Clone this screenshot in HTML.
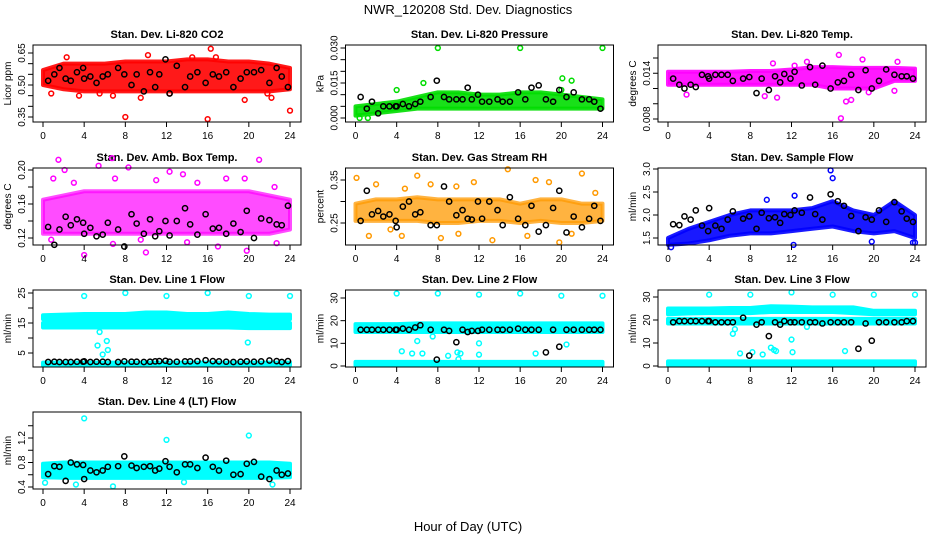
<!DOCTYPE html>
<html><head><meta charset="utf-8"><style>
html,body{margin:0;padding:0;background:#fff;}
svg{display:block;font-family:"Liberation Sans",Arial,sans-serif;}
</style></head><body>
<svg id="chart" width="936" height="540" viewBox="0 0 936 540" xmlns="http://www.w3.org/2000/svg">
<rect width="936" height="540" fill="#fff"/>
<text x="468" y="14" text-anchor="middle" font-size="13">NWR_120208 Std. Dev. Diagnostics</text>
<text x="468" y="531" text-anchor="middle" font-size="13">Hour of Day (UTC)</text>
</svg>
<script>
const bandHours=[0,2,4,6,8,10,12,14,16,18,20,22,24];
const blackHours=[0.5,1.1,1.6,2.2,2.7,3.3,3.9,4.0,4.6,5.2,5.8,6.3,7.3,7.9,8.6,9.1,9.8,10.4,10.9,11.3,11.9,12.3,13.0,13.8,14.3,15.0,15.8,16.5,17.1,17.8,18.5,19.2,19.8,20.5,21.2,22.0,22.7,23.2,23.8];
const xTicks=[0,4,8,12,16,20,24];

const titles=["Stan. Dev. Li-820 CO2","Stan. Dev. Li-820 Pressure","Stan. Dev. Li-820 Temp.","Stan. Dev. Amb. Box Temp.","Stan. Dev. Gas Stream RH","Stan. Dev. Sample Flow","Stan. Dev. Line 1 Flow","Stan. Dev. Line 2 Flow","Stan. Dev. Line 3 Flow","Stan. Dev. Line 4 (LT) Flow"];
const yTitles=["Licor ppm","kPa","degrees C","degrees C","percent","ml/min","ml/min","ml/min","ml/min","ml/min"];
const colors=["#ff0000","#00dd00","#ff00ff","#ff00ff","#ff9900","#0000ff","#00ffff","#00ffff","#00ffff","#00ffff"];
const bandOpacity=[0.9,0.9,0.9,0.7,0.75,0.9,1,1,1,1];

const yTicks=[[0.35,0.40,0.45,0.50,0.55,0.60,0.65],[0,0.005,0.010,0.015,0.020,0.025,0.030],[0.008,0.010,0.012,0.014,0.016],[0.12,0.14,0.16,0.18,0.20],[0.25,0.30,0.35],[1.5,2.0,2.5,3.0],[5,10,15,20,25],[0,10,20,30],[0,10,20,30],[0.4,0.6,0.8,1.0,1.2,1.4]];
const yLabels=[["0.35","0.50","0.65"],["0.000","0.015","0.030"],["0.008","0.014"],["0.12","0.16","0.20"],["0.25","0.35"],["1.5","2.0","2.5","3.0"],["5","15","25"],["0","10","20","30"],["0","10","20","30"],["0.4","0.8","1.2"]];

const bandsCO2=[[[0.50,0.48,0.47,0.47,0.47,0.47,0.47,0.47,0.47,0.47,0.47,0.47,0.48],[0.57,0.60,0.60,0.60,0.61,0.61,0.61,0.62,0.62,0.61,0.61,0.60,0.58]]];
const bandsPres=[[[0.001,0.002,0.003,0.004,0.004,0.004,0.004,0.004,0.004,0.004,0.004,0.004,0.004],[0.005,0.006,0.007,0.009,0.011,0.011,0.010,0.010,0.011,0.011,0.010,0.009,0.008]]];
const bandsTemp=[[[0.0125,0.0125,0.0125,0.0125,0.0125,0.0125,0.0125,0.0125,0.012,0.012,0.012,0.013,0.013],[0.0142,0.0142,0.0142,0.0142,0.0143,0.0143,0.0145,0.0148,0.0148,0.0147,0.0147,0.0147,0.0146]]];
const bandsAmb=[[[0.125,0.125,0.125,0.125,0.125,0.125,0.125,0.125,0.125,0.125,0.125,0.125,0.13],[0.165,0.17,0.175,0.175,0.175,0.175,0.175,0.175,0.175,0.175,0.175,0.17,0.165]]];
const bandsRH=[[[0.255,0.255,0.255,0.255,0.25,0.25,0.255,0.255,0.25,0.255,0.25,0.25,0.255],[0.295,0.305,0.305,0.31,0.305,0.305,0.305,0.305,0.295,0.305,0.305,0.295,0.295]]];
const bandsSample=[[[1.35,1.38,1.45,1.55,1.6,1.6,1.65,1.7,1.75,1.65,1.6,1.65,1.5],[1.5,1.7,1.85,2.0,2.1,2.1,2.1,2.15,2.3,2.1,2.0,2.3,2.0]]];
const bandsL1=[[[16.3,16.3,16.3,16.3,16.3,16.3,16.3,16.3,16.3,16.3,16.3,16.3,16.3],[17.6,17.8,18,18,18,18.5,18.5,18,18,18.5,18,17.8,17.8]],[[13.5,13.5,13.5,13.5,13.5,13.5,13.5,13.5,13.5,13.5,13.3,13.3,13.3],[15,15,15,15.2,15.2,15.2,15.2,15.2,15.2,15.2,15,15,15]],[[0.9,0.9,0.9,0.9,0.9,0.9,0.9,0.9,0.9,0.9,0.9,0.9,0.9],[1.8,1.8,1.8,1.8,1.8,1.8,1.8,1.8,1.8,1.8,1.8,1.8,1.8]]];
const bandsL2=[[[15,15,15,15,15,15,15,15,15,15,15,15,15],[18.5,18.5,18.5,18.8,18.8,18.8,18.8,18.8,18.8,18.8,18.8,18.8,18.8]],[[0.4,0.4,0.4,0.4,0.4,0.4,0.4,0.4,0.4,0.4,0.4,0.4,0.4],[1.8,1.8,1.8,1.8,1.8,1.8,1.8,1.8,1.8,1.8,1.8,1.8,1.8]]];
const bandsL3=[[[22.5,22.8,23,23,23,23.5,23.5,23.5,23.5,23,22.5,22.5,22.5],[25,25,25,25.2,25.2,26,25.8,25.5,25.5,25.5,24,24,24]],[[18.5,18.5,18.5,18.5,18.5,18.5,18.5,18.5,18.5,18.5,18.5,18.5,18.5],[20.5,20.5,20.5,20.5,20.5,20.5,20.5,20.5,20.5,20.5,20.5,20.5,20.5]],[[0.5,0.5,0.5,0.5,0.5,0.5,0.5,0.5,0.5,0.5,0.5,0.5,0.5],[2,2,2,2,2,2,2,2,2,2,2,2,2]]];
const bandsL4=[[[0.56,0.55,0.55,0.55,0.55,0.55,0.55,0.55,0.55,0.55,0.55,0.55,0.56],[0.78,0.8,0.8,0.8,0.8,0.8,0.8,0.8,0.8,0.8,0.8,0.8,0.78]]];

const blackCO2=[0.52,0.55,0.58,0.53,0.52,0.56,0.58,0.53,0.54,0.51,0.54,0.55,0.58,0.55,0.50,0.55,0.47,0.56,0.49,0.55,0.62,0.46,0.59,0.49,0.54,0.56,0.51,0.55,0.54,0.56,0.49,0.53,0.56,0.56,0.57,0.51,0.58,0.54,0.49];
const blackPres=[0.009,0.004,0.007,0.002,0.005,0.005,0.005,0.005,0.006,0.005,0.006,0.007,0.009,0.016,0.009,0.008,0.008,0.008,0.013,0.008,0.010,0.007,0.007,0.008,0.007,0.007,0.011,0.008,0.013,0.014,0.008,0.007,0.012,0.009,0.011,0.008,0.008,0.007,0.004];
const blackTemp=[0.0133,0.0125,0.0120,0.0125,0.0122,0.0138,0.0136,0.0133,0.0138,0.0138,0.0138,0.0130,0.0133,0.0135,0.0114,0.0133,0.0118,0.0136,0.0128,0.0139,0.0133,0.0142,0.0124,0.0148,0.0125,0.0150,0.0120,0.0128,0.0130,0.0138,0.0118,0.0144,0.0120,0.0130,0.0145,0.0138,0.0136,0.0136,0.0133];
const blackAmb=[0.133,0.112,0.130,0.145,0.135,0.142,0.138,0.125,0.132,0.122,0.124,0.138,0.130,0.110,0.148,0.137,0.125,0.142,0.122,0.128,0.140,0.123,0.140,0.155,0.136,0.124,0.148,0.131,0.132,0.125,0.137,0.127,0.152,0.120,0.143,0.141,0.136,0.135,0.158];
const blackRH=[0.255,0.325,0.27,0.278,0.265,0.27,0.255,0.24,0.288,0.30,0.27,0.275,0.245,0.245,0.335,0.30,0.268,0.28,0.26,0.258,0.30,0.26,0.30,0.28,0.245,0.31,0.26,0.245,0.29,0.23,0.245,0.285,0.325,0.228,0.265,0.24,0.26,0.29,0.255];
const blackSample=[1.8,1.78,1.97,1.9,2.1,1.77,1.65,2.15,1.77,1.7,1.9,2.08,1.92,1.97,1.7,2.05,1.93,1.95,1.83,2.02,2.0,2.1,2.05,2.38,2.02,1.9,2.45,2.3,2.2,1.98,1.65,1.95,1.9,2.1,1.85,2.28,2.08,1.92,1.85];
const blackL1=[2.0,2.1,2.0,2.0,2.0,2.1,2.1,2.2,2.0,2.1,2.1,2.0,2.0,2.2,2.1,2.1,2.0,2.1,2.2,2.3,2.4,2.1,2.1,2.2,2.2,2.3,2.6,2.3,2.2,2.1,2.0,2.1,2.2,2.1,2.2,2.5,2.3,2.0,2.3];
const blackL2=[16,16,16,16,16,16,16,16,16.5,16,17,18,16,2.8,16,15.5,10.5,16,15,15.5,15.5,16,16,16,16,16,16.5,16,16,16,6,16,8.5,16,16,16,16,16,16];
const blackL3=[19,19.5,19.5,19.5,19.5,19.5,19.5,19.5,19,19,19,19,21,4.5,18,19,13,19,18,19.5,19,19,19,19,19,18.5,19,19,19,19,7.5,18.5,11,19,19,19,19,19.5,19.5];
const blackL4=[0.61,0.74,0.73,0.5,0.8,0.77,0.76,0.53,0.67,0.64,0.67,0.73,0.74,0.9,0.75,0.71,0.73,0.74,0.67,0.7,0.82,0.73,0.64,0.77,0.77,0.71,0.88,0.73,0.67,0.83,0.6,0.61,0.78,0.81,0.57,0.53,0.67,0.6,0.62];

const outCO2=[[8,0.35],[16,0.34],[24,0.38],[16.3,0.67],[10.2,0.64],[0.8,0.46],[3.5,0.45],[19.6,0.43],[22.2,0.44],[12.3,0.46],[9.5,0.44],[5.5,0.46],[16.8,0.63],[6.8,0.45],[2.3,0.63],[14.5,0.63],[21.8,0.46]];
const outPres=[[8,0.030],[16,0.030],[24,0.030],[0.4,0.0],[1.2,0.0],[20.1,0.017],[21,0.016],[6.6,0.015],[4,0.012],[20,0.012]];
const outTemp=[[16.8,0.0081],[16.6,0.0164],[18.9,0.0158],[22.3,0.0155],[9.4,0.0110],[17.3,0.0103],[22,0.0117],[1.8,0.0112],[10.6,0.0108],[13.5,0.0155],[10.2,0.0153],[12.3,0.0150],[17.8,0.0105],[19.5,0.0115]];
const outAmb=[[1.5,0.212],[6.7,0.214],[8.3,0.203],[21,0.212],[4,0.100],[10,0.103],[19.8,0.105],[5.4,0.205],[2.1,0.200],[12.3,0.198],[1,0.19],[3,0.185],[7,0.19],[11,0.188],[13.6,0.195],[15,0.185],[17.8,0.19],[19.6,0.19],[22.5,0.18],[0.8,0.118],[6.8,0.113],[9.5,0.118],[14,0.115],[17,0.11],[22.7,0.114]];
const outRH=[[14.8,0.375],[22,0.365],[6,0.36],[0.1,0.355],[13.3,0.21],[8.3,0.215],[19.8,0.205],[1.3,0.22],[4.5,0.22],[17.5,0.35],[2,0.34],[4.8,0.33],[7.3,0.34],[9.8,0.335],[11.5,0.345],[18.8,0.345],[23.3,0.32],[3.4,0.235],[10,0.225],[16.7,0.22],[21,0.225]];
const outSample=[[15.8,2.97],[16,2.8],[9.6,2.33],[12.3,2.42],[12.2,1.35],[19.8,1.42],[23.8,1.4],[24,1.4],[0.3,1.3]];
const outL1=[[4,24],[8,25],[12,24],[16,25],[20,24],[24,24],[5.5,12],[5.3,7.5],[6.2,9],[6.3,6],[5.8,4.5],[19.9,8.5]];
const outL2=[[4,32],[8,32],[12,31.5],[16,32],[20,31],[24,31],[4.5,6.5],[5.5,5.5],[6.5,5.5],[6,11],[7.5,13],[9.9,6],[10.2,5.5],[12,10],[12,5],[17.5,5.5],[20.5,9.5],[9,4.5],[10,3]];
const outL3=[[4,31],[8,31],[12,32],[16,31],[20,31],[24,31],[6.3,14],[6.5,16],[7,5.5],[8.2,6],[9.2,5],[10,8],[10.3,7],[10.5,6.5],[12,11.5],[12.1,6],[17.2,6.5],[13.5,17]];
const outL4=[[4,1.52],[12,1.17],[20,1.24],[0.2,0.47],[6.8,0.41],[22.3,0.44],[3.2,0.44],[13.7,0.48]];

const allBands=[bandsCO2,bandsPres,bandsTemp,bandsAmb,bandsRH,bandsSample,bandsL1,bandsL2,bandsL3,bandsL4];
const allBlack=[blackCO2,blackPres,blackTemp,blackAmb,blackRH,blackSample,blackL1,blackL2,blackL3,blackL4];
const allOut=[outCO2,outPres,outTemp,outAmb,outRH,outSample,outL1,outL2,outL3,outL4];

const boxX=[33,345.5,658], boxY=[45,168,290,412], boxW=268, boxH=77;
const yCal=[[0.65,53,0.35,117],[0.030,48,0,118],[0.016,58,0.008,119],[0.20,170,0.12,238],[0.35,180,0.25,223],[3.0,169,1.5,238],[25,293,5,353],[30,298,0,366],[30,297,0,366],[1.2,438,0.4,487]];

const svg=document.getElementById('chart');
const NS='http://www.w3.org/2000/svg';
function mk(tag,attrs,parent){const e=document.createElementNS(NS,tag);for(const k in attrs)e.setAttribute(k,attrs[k]);(parent||svg).appendChild(e);return e;}

for(let p=0;p<10;p++){
  const col=p%3,row=Math.floor(p/3);
  const bx=boxX[col],by=boxY[row];
  const x0=bx+10,x1=x0+247;
  const xs=h=>x0+(x1-x0)*h/24;
  const c=yCal[p];
  const ys=v=>c[1]+(v-c[0])*(c[3]-c[1])/(c[2]-c[0]);
  const g=mk('g',{});
  
  
  const t=mk('text',{x:bx+boxW/2,y:by-7,'text-anchor':'middle','font-size':'11','font-weight':'bold'},g);
  
  
  t.textContent=titles[p];
  const clr=colors[p];
  allBands[p].forEach(b=>{
    let pts=bandHours.map((h,i)=>xs(h)+','+ys(b[1][i]));
    pts=pts.concat(bandHours.map((h,i)=>xs(h)+','+ys(b[0][i])).reverse());
    const pg=mk('polygon',{points:pts.join(' '),fill:clr,'fill-opacity':bandOpacity[p],stroke:clr,'stroke-opacity':bandOpacity[p],'stroke-width':'4','stroke-linejoin':'round'},g);
    
    
  });
  allOut[p].forEach(o=>{
    const ci=mk('circle',{cx:xs(o[0]),cy:ys(o[1]),r:2.4,fill:'none',stroke:clr,'stroke-width':'1.5'},g);
    
    
  });
  allBlack[p].forEach((v,i)=>{
    const ci=mk('circle',{cx:xs(blackHours[i]),cy:ys(v),r:2.6,fill:'none',stroke:'#000','stroke-width':'1.5'},g);
    
    
  });
  const box=mk('rect',{x:bx,y:by,width:boxW,height:boxH,fill:'none',stroke:'#000','stroke-width':'1'},g);
  
  
  mk('line',{x1:xs(0),x2:xs(24),y1:by+boxH,y2:by+boxH,stroke:'#000'},g);
  xTicks.forEach(h=>{
    mk('line',{x1:xs(h),x2:xs(h),y1:by+boxH,y2:by+boxH+5,stroke:'#000'},g);
    const tl=mk('text',{x:xs(h),y:by+boxH+17,'text-anchor':'middle','font-size':'10'},g);
    
    
    tl.textContent=h;
  });
  const yt=yTicks[p];
  mk('line',{x1:bx,x2:bx,y1:ys(yt[0]),y2:ys(yt[yt.length-1]),stroke:'#000'},g);
  yt.forEach(v=>mk('line',{x1:bx-5,x2:bx,y1:ys(v),y2:ys(v),stroke:'#000'},g));
  yLabels[p].forEach(s=>{
    const yy=ys(parseFloat(s));
    const tl=mk('text',{x:bx-8,y:yy,'text-anchor':'middle','font-size':'10',transform:'rotate(-90 '+(bx-8)+' '+yy+')'},g);
    
    
    tl.textContent=s;
  });
  const yc=by+boxH/2;
  const ytt=mk('text',{x:bx-22,y:yc,'text-anchor':'middle','font-size':'10',transform:'rotate(-90 '+(bx-22)+' '+yc+')'},g);
  
  
  ytt.textContent=yTitles[p];
}
</script>
</body></html>
